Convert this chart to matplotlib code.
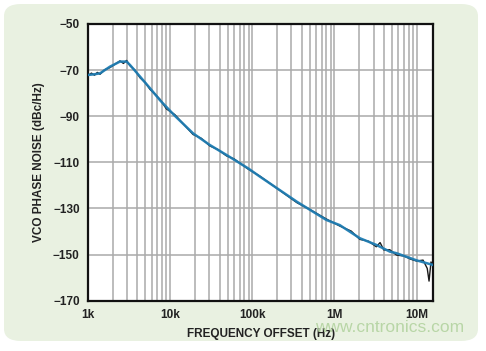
import matplotlib
matplotlib.use("Agg")
import matplotlib.pyplot as plt
from matplotlib.patches import FancyBboxPatch
from matplotlib.ticker import FixedLocator, LogLocator, NullFormatter

plt.rcParams['font.family'] = ['Liberation Sans', 'DejaVu Sans']

# Smoothed (blue) trace
freq = [1000, 1200, 1400, 1850, 2450, 2950, 3250, 4300, 5700, 7500, 11400,
        19000, 30500, 48600, 89000, 124000, 350000, 800000, 1160000, 2040000,
        3240000, 4720000, 5700000, 10000000, 15900000]
noise = [-72.1, -71.8, -71.4, -68.5, -66.3, -66.3, -67.8, -72.8, -77.9, -83.0,
         -89.8, -97.4, -102.5, -106.8, -112.6, -116.2, -127.1, -135.0, -137.2,
         -142.9, -145.8, -148.7, -149.4, -152.5, -154.5]

# Raw (black) trace with visible spikes
raw_freq = [1000, 1100, 1200, 1300, 1400, 1600, 1850, 2100, 2450, 2700, 2950,
            3250, 3700, 4300, 5000, 5700, 6500, 7500, 9000, 11400, 14000, 19000,
            24000, 30500, 38000, 48600, 60000, 89000, 124000, 200000, 350000,
            500000, 800000, 1160000, 1600000, 2040000, 2600000, 3240000,
            3600000, 4000000, 4720000, 5700000, 7000000, 8500000, 10000000,
            12000000, 13500000, 14200000, 15000000, 15900000]
raw_noise = [-72.4, -71.3, -72.2, -71.0, -71.8, -69.8, -68.9, -67.6, -66.0, -67.1,
             -65.8, -68.1, -69.9, -73.3, -75.5, -78.4, -80.3, -82.6, -86.8, -89.3,
             -92.8, -97.9, -99.6, -102.9, -104.4, -107.2, -108.5, -112.9, -116.0,
             -121.3, -127.5, -130.4, -134.6, -137.6, -139.8, -143.4, -144.2, -146.6,
             -144.8, -148.0, -147.9, -150.2, -150.6, -152.0, -152.8, -152.4, -156.0,
             -161.5, -153.2, -155.2]

x_ticks = [1e3, 1e4, 1e5, 1e6, 1e7]
x_labels = ['1k', '10k', '100k', '1M', '10M']
y_ticks = [-50, -70, -90, -110, -130, -150, -170]
y_labels = ['\u221250', '\u221270', '\u221290', '\u2212110', '\u2212130', '\u2212150', '\u2212170']

fig = plt.figure(figsize=(4.86, 3.51), dpi=100)
fig.patch.set_facecolor('white')

bg = FancyBboxPatch((4 / 486, 10 / 351), 474 / 486, 337 / 351,
                    boxstyle="round,pad=0,rounding_size=0.035",
                    transform=fig.transFigure, facecolor='#e9f1e1',
                    edgecolor='none', zorder=-5)
fig.patches.append(bg)

ax = fig.add_axes([88 / 486, 50.3 / 351, 345.3 / 486, 276.7 / 351])
ax.set_zorder(1)
ax.set_facecolor('white')
ax.set_xscale('log')
ax.set_xlim(1e3, 1.6e7)
ax.set_ylim(-170, -50)

ax.xaxis.set_major_locator(FixedLocator(x_ticks))
ax.set_xticklabels(x_labels)
ax.xaxis.set_minor_locator(LogLocator(base=10, subs=range(2, 10)))
ax.xaxis.set_minor_formatter(NullFormatter())
ax.set_yticks(y_ticks)
ax.set_yticklabels(y_labels)

ax.grid(True, which='both', axis='x', color='#aaaaaa', linewidth=1.1)
ax.grid(True, which='major', axis='y', color='#aaaaaa', linewidth=1.1)
ax.tick_params(which='both', length=0, pad=6, labelsize=8.5, colors='#222222')
for lab in ax.get_xticklabels() + ax.get_yticklabels():
    lab.set_fontweight('bold')

for s in ax.spines.values():
    s.set_linewidth(1.6)
    s.set_color('#111111')

ax.plot(raw_freq, raw_noise, color='#1a1a1a', linewidth=1.0, zorder=3)
ax.plot(freq, noise, color='#1f7db3', linewidth=1.8, zorder=4, alpha=0.95)

ax.set_xlabel('FREQUENCY OFFSET (Hz)', fontsize=8.5, fontweight='bold',
              color='#222222', labelpad=5)
ax.set_ylabel('VCO PHASE NOISE (dBc/Hz)', fontsize=8.5, fontweight='bold',
              color='#222222', labelpad=6)

fig.text(0.955, 0.045, 'www.cntronics.com', ha='right', va='bottom',
         fontsize=12.5, color='#b3d3a0', alpha=0.9, zorder=5)

fig.savefig('out.png', dpi=100, facecolor='white')
